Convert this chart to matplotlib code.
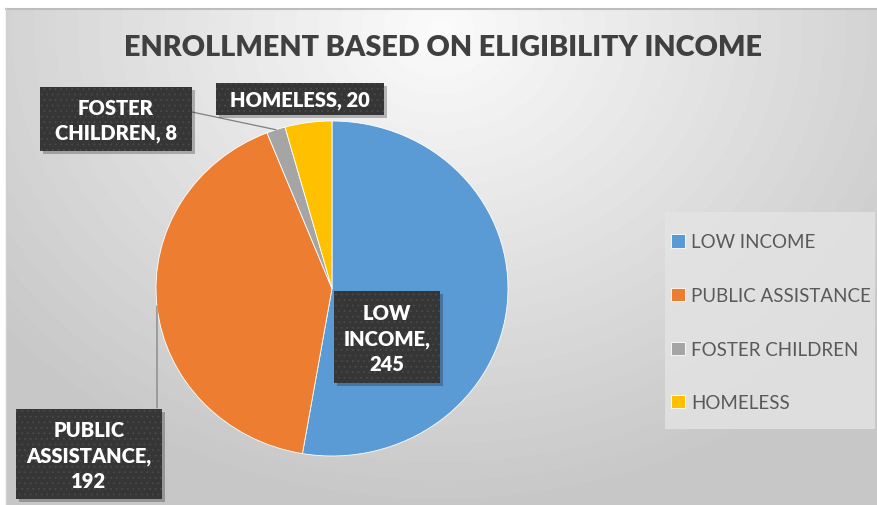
import numpy as np
import matplotlib.pyplot as plt
from matplotlib.patches import Rectangle

# data
categories = ["LOW INCOME", "PUBLIC ASSISTANCE", "FOSTER CHILDREN", "HOMELESS"]
values = [245, 192, 8, 20]
colors = ["#5B9BD5", "#ED7D31", "#A5A5A5", "#FFC000"]
value_on_new_line = [True, True, False, False]

W, H = 878, 506
plt.rcParams['font.family'] = ['Lato', 'DejaVu Sans']
plt.rcParams['hatch.linewidth'] = 0.6

fig = plt.figure(figsize=(W / 100, H / 100), dpi=100)
fig.patch.set_facecolor("white")


def fx(px):
    return px / W


def fy(py):
    return 1 - py / H


# background with soft radial gradient
bg = fig.add_axes([fx(6), 0, 1 - fx(6), fy(9)])
yy, xx = np.mgrid[9:H, 6:W]
d = np.sqrt(((xx - 440) / 560.0) ** 2 + ((yy - 30) / 470.0) ** 2)
shade = 0.985 - 0.20 * np.clip(d, 0, 1)
bg.imshow(shade, cmap="gray", vmin=0, vmax=1, aspect="auto", extent=[0, 1, 0, 1])
bg.axis("off")
fig.add_artist(plt.Line2D([fx(6), 1], [fy(9.5), fy(9.5)], color="#bdbdbd", lw=1.5))
fig.add_artist(plt.Line2D([fx(6.5), fx(6.5)], [0, fy(9)], color="#d0d0d0", lw=1))

fig.text(fx(443), fy(48), "ENROLLMENT BASED ON ELIGIBILITY INCOME", ha="center", va="center",
         fontsize=20.7, fontweight="heavy", color="#404040")

# pie (ellipse slightly wider than tall, like the source)
cx, cy, rx, ry = 332, 289.5, 176, 167.5
ax = fig.add_axes([fx(cx - rx), fy(cy + ry), fx(2 * rx), (2 * ry) / H])
wedges, _ = ax.pie(values, colors=colors, startangle=90, counterclock=False,
                   wedgeprops=dict(edgecolor="white", linewidth=0.6))
ax.set_aspect("auto")
ax.set_xlim(-1, 1)
ax.set_ylim(-1, 1)
ax.axis("off")

# label boxes (left, top, right, bottom in pixels)
boxes = [(334, 292, 440, 384), (16, 410, 162, 500), (40, 88, 192, 152), (216, 84, 384, 116)]
leader_end = [None, (157, 409), (192, 113), None]

for i, (name, v) in enumerate(zip(categories, values)):
    l, t, r, b = boxes[i]
    if value_on_new_line[i]:
        txt = name.replace(" ", "\n") + ",\n" + str(v)
    else:
        txt = name.replace(" ", "\n") + ", " + str(v)
    if i == 3:
        txt = name + ", " + str(v)
    w = wedges[i]
    mid = np.deg2rad((w.theta1 + w.theta2) / 2)
    if leader_end[i] is not None:
        ex, ey = leader_end[i]
        ax.annotate("", xy=(np.cos(mid), np.sin(mid)), xycoords="data",
                    xytext=(fx(ex), fy(ey)), textcoords="figure fraction",
                    arrowprops=dict(arrowstyle="-", color="#7f7f7f", lw=0.9,
                                    shrinkA=0, shrinkB=0))
    fig.add_artist(Rectangle((fx(l + 3), fy(b + 3)), fx(r - l), (b - t) / H,
                             facecolor="black", alpha=0.25, edgecolor="none"))
    fig.add_artist(Rectangle((fx(l), fy(b)), fx(r - l), (b - t) / H,
                             facecolor="#363636", edgecolor="none"))
    fig.add_artist(Rectangle((fx(l), fy(b)), fx(r - l), (b - t) / H,
                             facecolor="none", edgecolor="#4a4a4a", hatch="...", lw=0))
    fig.text(fx((l + r) / 2), fy((t + b) / 2 + 1), txt, ha="center", va="center",
             fontsize=14.5, fontweight="heavy", color="white", linespacing=1.4)

# legend
fig.add_artist(Rectangle((fx(665), fy(430)), fx(210), 217 / H,
                         facecolor="#e4e4e4", edgecolor="none", alpha=0.8))
fig.legend(wedges, categories, loc="upper left", bbox_to_anchor=(fx(664), fy(227)),
           frameon=False, fontsize=13.5, labelcolor="#595959", handlelength=0.7,
           handleheight=0.7, handletextpad=0.35, labelspacing=1.95, borderaxespad=0)

fig.savefig("out.png", dpi=100)
